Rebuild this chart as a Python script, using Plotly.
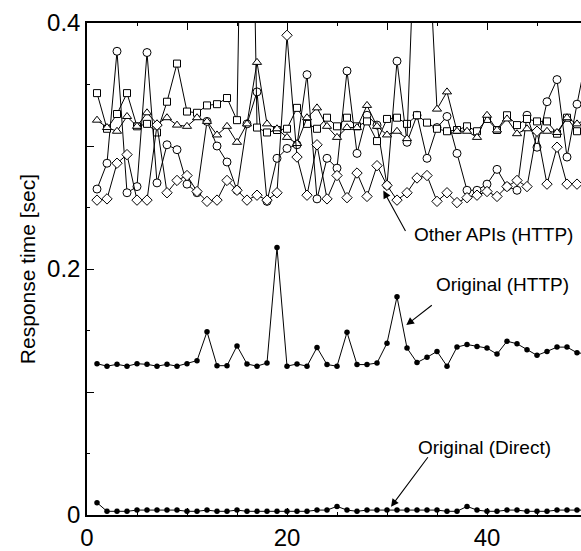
import plotly.graph_objects as go

# ---------------- data ----------------
runs = list(range(1, 51))

original_direct = [0.010, 0.003, 0.003, 0.003, 0.004, 0.004, 0.004, 0.004, 0.004, 0.003,
                   0.003, 0.004, 0.003, 0.003, 0.004, 0.003, 0.003, 0.003, 0.003, 0.003,
                   0.003, 0.003, 0.004, 0.004, 0.007, 0.004, 0.003, 0.004, 0.004, 0.004,
                   0.004, 0.004, 0.004, 0.004, 0.004, 0.003, 0.003, 0.007, 0.004, 0.003,
                   0.003, 0.004, 0.004, 0.003, 0.003, 0.003, 0.004, 0.004, 0.004, 0.004]

original_http = [0.123, 0.121, 0.1225, 0.121, 0.123, 0.1225, 0.121, 0.1225, 0.121, 0.123,
                 0.1255, 0.149, 0.1214, 0.1214, 0.1375, 0.1228, 0.121, 0.1236, 0.2175, 0.121,
                 0.1228, 0.121, 0.1362, 0.1223, 0.121, 0.1485, 0.1223, 0.1223, 0.1236, 0.1397,
                 0.1774, 0.1357, 0.1239, 0.1282, 0.133, 0.121, 0.1365, 0.1386, 0.137, 0.1357,
                 0.1308, 0.1413, 0.1392, 0.1343, 0.1298, 0.133, 0.1365, 0.1365, 0.1319, 0.131]

api_circle = [0.265, 0.286, 0.377, 0.262, 0.267, 0.376, 0.270, 0.301, 0.297, 0.269,
              0.262, 0.320, 0.300, 0.287, 0.264, 0.318, 0.344, 0.255, 0.290, 0.298,
              0.301, 0.358, 0.257, 0.290, 0.282, 0.361, 0.294, 0.325, 0.317, 0.268,
              0.369, 0.303, 0.325, 0.290, 0.315, 0.324, 0.294, 0.264, 0.264, 0.269,
              0.281, 0.267, 0.264, 0.325, 0.299, 0.336, 0.354, 0.291, 0.334, 0.375]

api_square = [0.343, 0.314, 0.326, 0.343, 0.316, 0.318, 0.311, 0.336, 0.367, 0.328,
              0.327, 0.333, 0.334, 0.339, 0.321, 0.800, 0.315, 0.311, 0.313, 0.314,
              0.331, 0.318, 0.314, 0.323, 0.316, 0.323, 0.316, 0.320, 0.304, 0.322,
              0.323, 0.318, 0.325, 0.319, 0.314, 0.312, 0.313, 0.316, 0.312, 0.322,
              0.313, 0.325, 0.317, 0.322, 0.320, 0.320, 0.310, 0.323, 0.312, 0.318]

api_triangle = [0.321, 0.315, 0.312, 0.324, 0.316, 0.327, 0.318, 0.323, 0.317, 0.316,
                0.323, 0.320, 0.309, 0.316, 0.303, 0.318, 0.368, 0.318, 0.314, 0.307,
                0.302, 0.323, 0.331, 0.316, 0.307, 0.315, 0.315, 0.333, 0.316, 0.309,
                0.312, 0.306, 0.525, 0.490, 0.330, 0.344, 0.312, 0.312, 0.307, 0.325,
                0.313, 0.322, 0.310, 0.314, 0.312, 0.312, 0.311, 0.323, 0.318, 0.322]

api_diamond = [0.256, 0.257, 0.286, 0.293, 0.256, 0.256, 0.317, 0.262, 0.272, 0.276,
               0.263, 0.255, 0.256, 0.272, 0.264, 0.256, 0.260, 0.256, 0.262, 0.390,
               0.291, 0.260, 0.301, 0.257, 0.276, 0.258, 0.278, 0.259, 0.284, 0.268,
               0.256, 0.262, 0.274, 0.276, 0.255, 0.262, 0.254, 0.258, 0.260, 0.263,
               0.259, 0.267, 0.272, 0.267, 0.312, 0.269, 0.299, 0.269, 0.269, 0.268]

x_tick_vals = [0, 10, 20, 30, 40, 50]
x_tick_text = ["0", "", "20", "", "40", ""]
y_tick_vals = [0, 0.1, 0.2, 0.3, 0.4]
y_tick_text = ["0", "", "0.2", "", "0.4"]
y_title = "Response time [sec]"

labels = ["Other APIs (HTTP)", "Original (HTTP)", "Original (Direct)"]

FONT = "Liberation Sans, Arial, sans-serif"

fig = go.Figure()

open_series = [(api_circle, "circle", 8), (api_square, "square", 7),
               (api_triangle, "triangle-up", 8), (api_diamond, "diamond", 8)]
for vals, sym, sz in open_series:
    fig.add_trace(go.Scatter(
        x=runs, y=vals, mode="lines+markers",
        line=dict(color="black", width=1),
        marker=dict(symbol=sym, size=sz, color="white",
                    line=dict(color="black", width=1)),
        showlegend=False, hoverinfo="skip"))

for vals in (original_http, original_direct):
    fig.add_trace(go.Scatter(
        x=runs, y=vals, mode="lines+markers",
        line=dict(color="black", width=1),
        marker=dict(symbol="circle", size=5.5, color="black"),
        showlegend=False, hoverinfo="skip"))

# text labels
text_pos = [(32.5, 0.2277), (34.66, 0.1873), (32.93, 0.0551)]
for t, (tx, ty) in zip(labels, text_pos):
    fig.add_annotation(x=tx, y=ty, text=t, showarrow=False, xanchor="left",
                       yanchor="middle", font=dict(family=FONT, size=19, color="black"))

# arrows (head in data coords, tail offset in px)
arrows = [(29.63, 0.2638, 23, 42), (31.93, 0.1544, 27, -21), (30.40, 0.0067, 38, -51)]
for hx, hy, ax, ay in arrows:
    fig.add_annotation(x=hx, y=hy, ax=ax, ay=ay, text="", showarrow=True,
                       arrowhead=2, arrowsize=1.4, arrowwidth=1.1, arrowcolor="black")

fig.update_layout(
    width=581, height=551,
    margin=dict(l=87, r=0, t=23, b=29),
    paper_bgcolor="white", plot_bgcolor="white",
    font=dict(family=FONT, color="black"),
    xaxis=dict(range=[0, 49.4], tickmode="array", tickvals=x_tick_vals, ticktext=x_tick_text,
               ticks="inside", ticklen=7, tickwidth=1, tickcolor="black",
               minor=dict(tickmode="linear", tick0=0, dtick=5, ticks="inside", ticklen=3,
                          tickcolor="black", tickwidth=1),
               showline=True, linecolor="black", linewidth=1.5, mirror="ticks",
               showgrid=False, zeroline=False, tickfont=dict(size=24, family=FONT)),
    yaxis=dict(range=[0, 0.4], tickmode="array", tickvals=y_tick_vals, ticktext=y_tick_text,
               ticks="inside", ticklen=7, tickwidth=1, tickcolor="black",
               minor=dict(tickmode="linear", tick0=0, dtick=0.05, ticks="inside", ticklen=3,
                          tickcolor="black", tickwidth=1),
               showline=True, linecolor="black", linewidth=1.5, mirror=False,
               showgrid=False, zeroline=False, tickfont=dict(size=24, family=FONT),
               title=dict(text=y_title, font=dict(size=21, family=FONT), standoff=6)),
    yaxis2=dict(range=[0, 0.4], overlaying="y", side="right", tickmode="array",
                tickvals=y_tick_vals, ticktext=y_tick_text, showticklabels=False,
                ticks="inside", ticklen=7, tickwidth=1, tickcolor="black",
                minor=dict(tickmode="linear", tick0=0, dtick=0.05, ticks="inside", ticklen=3,
                           tickcolor="black", tickwidth=1),
                showline=False, showgrid=False, zeroline=False),
)

fig.write_html("out.html")
